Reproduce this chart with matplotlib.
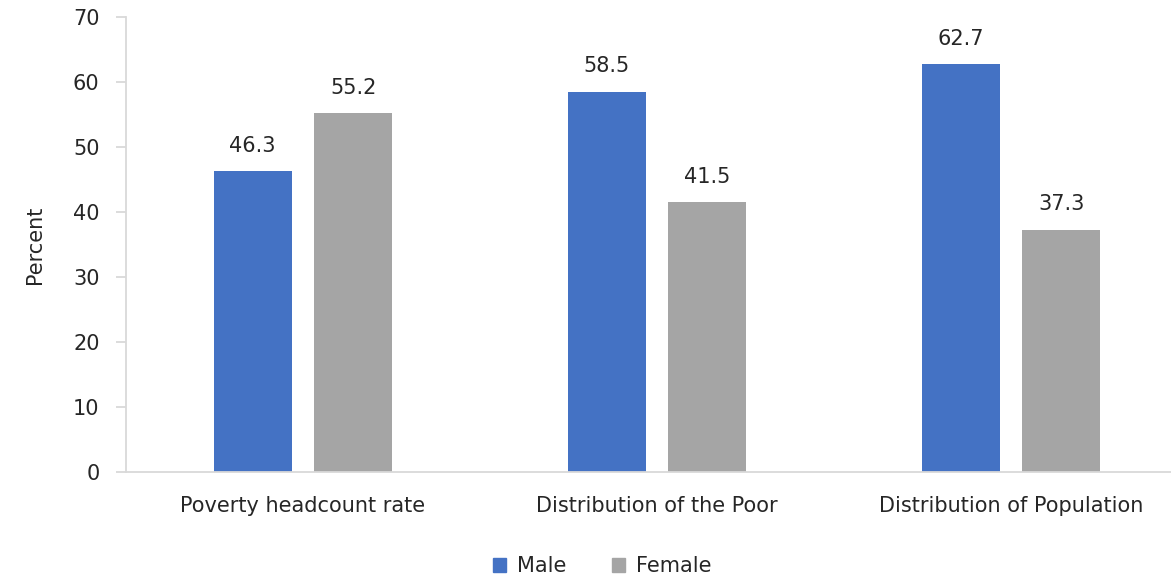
import matplotlib
matplotlib.use("Agg")
import matplotlib.pyplot as plt
import numpy as np
from matplotlib.patches import Patch

categories = ["Poverty headcount rate", "Distribution of the Poor", "Distribution of Population"]
male = [46.3, 58.5, 62.7]
female = [55.2, 41.5, 37.3]
series_names = ["Male", "Female"]
yticks = [0, 10, 20, 30, 40, 50, 60, 70]

BLUE = "#4472C4"
GREY = "#A5A5A5"
TEXT = "#262626"
SPINE = "#D9D9D9"
FS = 15

plt.rcParams['font.family'] = ['DejaVu Sans']
fig = plt.figure(figsize=(11.71, 5.77), dpi=100)
ax = fig.add_axes([126/1171, 105/577, 1062/1171, 455/577])

x = np.arange(len(categories))
w = 0.22
off = 0.142
b1 = ax.bar(x - off, male, width=w, color=BLUE)
b2 = ax.bar(x + off, female, width=w, color=GREY)

for bars, vals in ((b1, male), (b2, female)):
    for r, v in zip(bars, vals):
        ax.annotate(f"{v:.1f}", (r.get_x() + r.get_width()/2, v),
                    xytext=(0, 11), textcoords="offset points",
                    ha="center", va="bottom", fontsize=FS, color=TEXT)

ax.set_xlim(-0.5, len(categories) - 0.5)
ax.set_ylim(0, 70)
ax.set_yticks(yticks)
ax.set_xticks(x)
ax.set_xticklabels(categories, fontsize=FS, color=TEXT)
ax.tick_params(axis='x', length=0, pad=17)
ax.tick_params(axis='y', length=7, width=1.3, color=SPINE, pad=12, labelsize=FS, labelcolor=TEXT)
for s in ("top", "right"):
    ax.spines[s].set_visible(False)
for s in ("left", "bottom"):
    ax.spines[s].set_color(SPINE)
    ax.spines[s].set_linewidth(1.3)
ax.set_ylabel("Percent", fontsize=FS, color=TEXT, labelpad=20)

handles = [Patch(color=BLUE, label=series_names[0]), Patch(color=GREY, label=series_names[1])]
fig.legend(handles=handles, loc="center", bbox_to_anchor=(602/1171, 1 - 566/577),
           ncol=2, frameon=False, fontsize=FS, handlelength=0.65, handleheight=0.65,
           handletextpad=0.5, columnspacing=2.2, labelcolor=TEXT)

fig.savefig("out.png", dpi=100)
